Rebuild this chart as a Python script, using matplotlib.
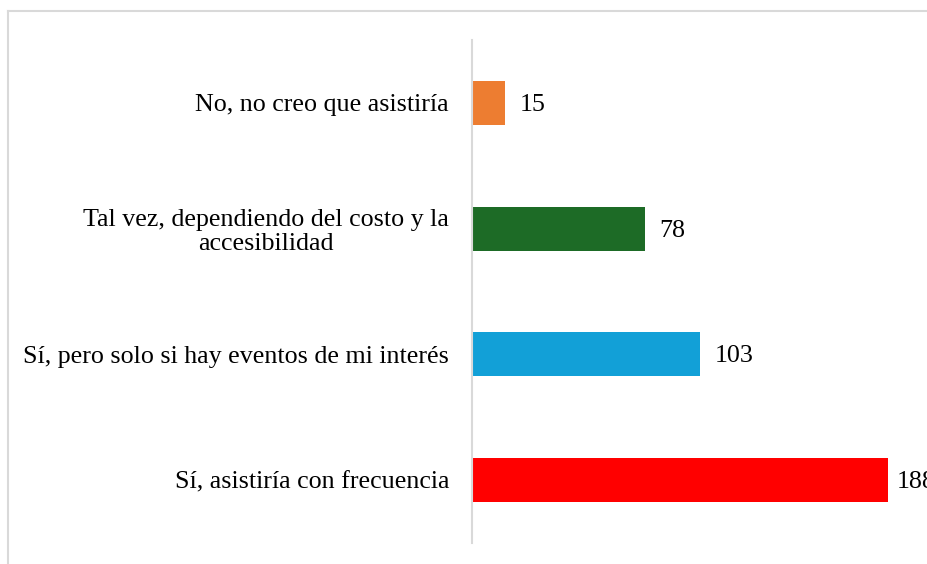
import matplotlib.pyplot as plt
from matplotlib.lines import Line2D

categories = [
    'Sí, asistiría con frecuencia',
    'Sí, pero solo si hay eventos de mi interés',
    'Tal vez, dependiendo del costo y la\naccesibilidad',
    'No, no creo que asistiría',
]
values = [188, 103, 78, 15]
colors = ['#FF0000', '#12A0D7', '#1D6B26', '#ED7D31']

plt.rcParams['font.family'] = ['Liberation Serif', 'DejaVu Serif']

W, H = 928, 564
fig = plt.figure(figsize=(W / 100, H / 100), dpi=100)
ax = fig.add_axes([472 / W, 21 / H, 1 - 472 / W, (543 - 40) / H])

xmax = (W - 472) / 2.213
y = range(len(categories))
ax.barh(y, values, height=0.35, color=colors)
for yi, v in zip(y, values):
    # labels near the right edge get nudged in, like the original
    ax.text(min(v + 6.5, xmax - 14), yi - 0.015, str(v), va='center', ha='left',
            fontsize=18.7, clip_on=False)

ax.set_xlim(0, xmax)
ax.set_ylim(-0.5, len(categories) - 0.5)
ax.set_yticks(list(y))
ax.set_yticklabels(categories, fontsize=18.7)
for lbl in ax.get_yticklabels():
    lbl.set_multialignment('center')
    lbl.set_linespacing(1.1)
ax.tick_params(axis='y', length=0, pad=16.5)
ax.set_xticks([])

for s in ['top', 'right', 'bottom']:
    ax.spines[s].set_visible(False)
ax.spines['left'].set_color('#D9D9D9')
ax.spines['left'].set_linewidth(1.5)

# chart area border (only top and left visible in crop)
fig.add_artist(Line2D([8 / W, 8 / W], [0, 1 - 10.5 / H], transform=fig.transFigure,
                      color='#D9D9D9', lw=1.5))
fig.add_artist(Line2D([8 / W, 1], [1 - 10.5 / H, 1 - 10.5 / H], transform=fig.transFigure,
                      color='#D9D9D9', lw=1.5))

fig.savefig('out.png', dpi=100)
